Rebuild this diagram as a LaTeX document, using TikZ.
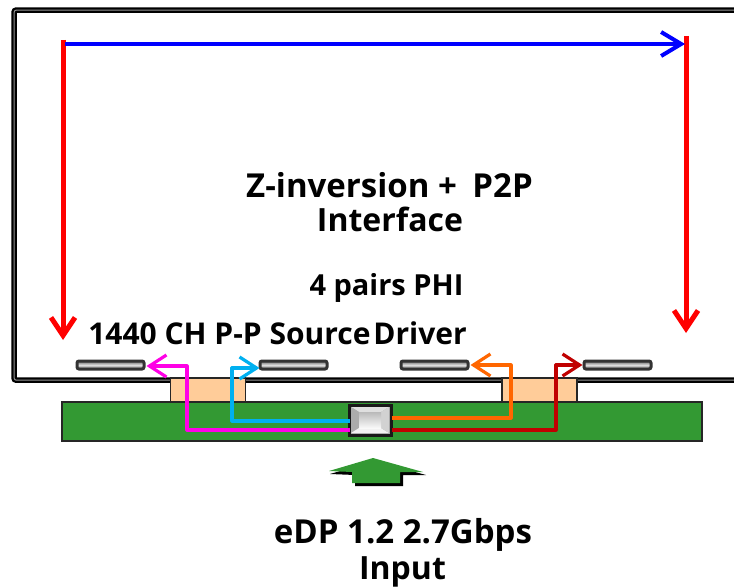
\documentclass[tikz,border=0pt]{standalone}
\usepackage{fontspec}
\setmainfont{Open Sans}
\usetikzlibrary{arrows.meta,calc}
\definecolor{pcb}{HTML}{339933}
\definecolor{peach}{HTML}{FFCC99}
\tikzset{
  barb/.style={-{Straight Barb[length=18pt,width=24pt,line width=5pt]}},
  wire/.style={line width=3.2pt,line join=round,-{Straight Barb[length=17pt,width=22pt,line width=3.2pt]}},
  lbl/.style={inner sep=0pt,text=black},
  chip/.style={draw=black!80,line width=3pt,rounded corners=2pt,minimum width=67pt,minimum height=8pt,inner sep=0pt,
     top color=black!60,bottom color=black!60,middle color=gray!25},
  tab/.style={draw=black!85,line width=1.2pt,fill=peach,minimum width=75pt,minimum height=26pt,inner sep=0pt},
}
\begin{document}
\begin{tikzpicture}[x=1pt,y=-1pt]
\useasboundingbox (0,0) rectangle (734,588);
\begin{scope}
\clip (0,0) rectangle (734,588);
\node[draw=black,line width=2.3pt,double=gray!85,double distance=1pt,fill=white,rounded corners=2pt,
  minimum width=738pt,minimum height=370pt,inner sep=0pt,anchor=north west] (panel) at (13,9) {};
\end{scope}
\node[tab] (tabL) at (208,391) {};
\node[tab] (tabR) at (539.5,391) {};
\node[draw=black!85,line width=1.2pt,fill=pcb,minimum width=640pt,minimum height=39pt,inner sep=0pt] (pcb) at (382,421.5) {};
\node[chip] (c1) at (110.5,365) {};
\node[chip] (c2) at (293.5,365) {};
\node[chip] (c3) at (434.5,365) {};
\node[chip] (c4) at (617.5,365) {};
% timing controller
\node[draw=black!90,line width=3pt,fill=gray!70,minimum width=42pt,minimum height=30pt,inner sep=0pt] (ic) at (370,420) {};
\fill[gray!25] (351,407)--(389,407)--(381,412)--(359,412)--cycle;
\fill[gray!65] (351,407)--(359,412)--(359,428)--(351,433)--cycle;
\fill[gray!10] (351,433)--(359,428)--(381,428)--(389,433)--cycle;
\fill[gray!35] (389,407)--(381,412)--(381,428)--(389,433)--cycle;
\shade[top color=gray!55,bottom color=gray!5] (359,412) rectangle (381,428);
% wires
\coordinate (mg) at ($(ic.west)+(2,10)$);
\coordinate (cy) at ($(ic.west)+(2,1)$);
\coordinate (or) at ($(ic.east)+(-1,-2)$);
\coordinate (rd) at ($(ic.east)+(-1,10)$);
\coordinate (c1e) at ($(c1.east)+(1,1)$);
\coordinate (c2w) at ($(c2.west)+(1,3)$);
\coordinate (c3e) at ($(c3.east)+(1,0)$);
\coordinate (c4w) at ($(c4.west)+(0,0)$);
\draw[wire,draw={rgb,255:red,255;green,0;blue,230}] (mg) -- (187,430) -- (187,366) -- (c1e);
\draw[wire,draw={rgb,255:red,0;green,176;blue,240}] (cy) -- (232,421) -- (232,368) -- (c2w);
\draw[wire,draw={rgb,255:red,255;green,102;blue,0}] (or) -- (511,418) -- (511,365) -- (c3e);
\draw[wire,draw={rgb,255:red,192;green,0;blue,0}] (rd) -- (556,430) -- (556,365) -- (c4w);
% scan arrows
\coordinate (ls) at (63,40);
\coordinate (le) at (63,340);
\coordinate (rs) at (686,36);
\coordinate (re) at (686,333);
\draw[barb,red,line width=5pt] (ls) -- (le);
\draw[barb,red,line width=5pt] (rs) -- (re);
\draw[blue,line width=4pt,-{Straight Barb[length=20pt,width=24pt,line width=4pt]}] ($(ls)+(2,4)$) -- ($(rs)+(-1,8)$);
% input arrow
\fill[black] (330,474)--(375,461)--(426,475)--(403,475)--(403,486)--(355,486)--(355,475)--cycle;
\fill[pcb] (329,471)--(373,458)--(423,472)--(400,472)--(400,483)--(352,483)--(352,472)--cycle;
% text
\node[lbl,font=\bfseries\fontsize{33}{38}\selectfont] (t1) at (389.5,185) {Z-inversion +\hspace{7pt} P2P};
\node[lbl,font=\bfseries\fontsize{32}{36}\selectfont] (t2) at (390,219) {Interface};
\node[lbl,font=\bfseries\fontsize{29}{34}\selectfont] (t3) at (386.5,288) {4 pairs PHI};
\node[lbl,font=\bfseries\fontsize{30}{34}\selectfont] (t4) at (277.5,333) {1440 CH P-P Source\hspace{-5pt} Driver};
\node[lbl,font=\bfseries\fontsize{33}{38}\selectfont] (t5) at (403,535) {eDP 1.2 2.7Gbps};
\node[lbl,font=\bfseries\fontsize{32}{36}\selectfont] (t6) at (402.5,572) {Input};
\end{tikzpicture}
\end{document}
